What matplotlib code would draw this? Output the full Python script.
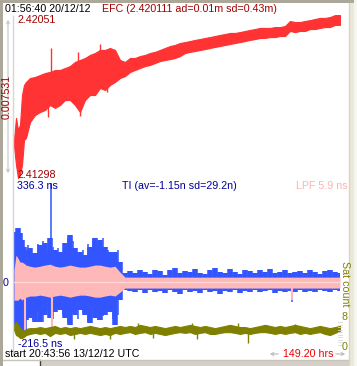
import matplotlib
matplotlib.use('Agg')
import matplotlib.pyplot as plt
import numpy as np
from matplotlib.patches import Rectangle, FancyArrowPatch
from matplotlib.lines import Line2D

# time axis, hours since start (149.20 hrs span)
hours = [0, 0.92, 1.83, 2.75, 3.66, 4.58, 5.49, 7.32, 9.61, 11.90, 14.19, 16.48, 18.76, 21.05,
         23.34, 25.63, 27.92, 30.21, 32.49, 34.78, 37.07, 39.36, 41.65, 43.94, 46.22, 48.51,
         50.80, 53.09, 55.38, 57.67, 59.95, 62.24, 64.53, 66.82, 69.11, 71.40, 73.68, 75.97,
         78.26, 80.55, 82.84, 85.13, 87.41, 89.70, 91.99, 94.28, 96.57, 98.86, 101.14, 103.43,
         105.72, 108.01, 110.30, 112.59, 114.87, 117.16, 119.45, 121.74, 124.03, 126.32,
         128.61, 130.89, 133.18, 135.47, 137.76, 140.05, 142.34, 144.62, 146.91, 149.20]

# EFC envelope (upper / lower)
efc_hi = [2.41473, 2.41574, 2.41519, 2.41542, 2.41679, 2.41725, 2.41739, 2.41757, 2.41762,
          2.41771, 2.41780, 2.41785, 2.41794, 2.41794, 2.41803, 2.41812, 2.41831, 2.41840,
          2.41849, 2.41863, 2.41872, 2.41886, 2.41886, 2.41895, 2.41886, 2.41840, 2.41831,
          2.41849, 2.41849, 2.41858, 2.41863, 2.41872, 2.41877, 2.41886, 2.41895, 2.41904,
          2.41909, 2.41918, 2.41922, 2.41927, 2.41932, 2.41936, 2.41941, 2.41945, 2.41950,
          2.41955, 2.41959, 2.41964, 2.41964, 2.41968, 2.41973, 2.41978, 2.41982, 2.41987,
          2.41987, 2.41987, 2.41991, 2.41991, 2.41996, 2.42019, 2.42014, 2.42014, 2.42019,
          2.42023, 2.42028, 2.42033, 2.42033, 2.42037, 2.42046, 2.42046]
efc_lo = [2.41445, 2.41358, 2.41298, 2.41312, 2.41358, 2.41473, 2.41482, 2.41555, 2.41587,
          2.41601, 2.41610, 2.41633, 2.41620, 2.41633, 2.41656, 2.41656, 2.41633, 2.41601,
          2.41656, 2.41679, 2.41679, 2.41711, 2.41702, 2.41725, 2.41739, 2.41757, 2.41766,
          2.41785, 2.41794, 2.41803, 2.41812, 2.41817, 2.41826, 2.41835, 2.41840, 2.41844,
          2.41849, 2.41858, 2.41872, 2.41877, 2.41881, 2.41886, 2.41890, 2.41895, 2.41900,
          2.41904, 2.41909, 2.41913, 2.41918, 2.41922, 2.41927, 2.41932, 2.41936, 2.41941,
          2.41941, 2.41945, 2.41945, 2.41950, 2.41950, 2.41973, 2.41968, 2.41973, 2.41973,
          2.41982, 2.41982, 2.41987, 2.41991, 2.41991, 2.42001, 2.42001]
efc_spike_h = [15.56, 16.93, 29.29, 30.21, 39.36, 42.56, 45.31]
efc_spike_v = [2.41578, 2.41895, 2.41877, 2.41583, 2.41913, 2.41693, 2.41886]

# TI envelope, ns
ti_hi = [-27, 170, 183, 166, 142, 119, 108, 115, 98, 125, 132, 149, 108, 102, 132, 159, 115,
         102, 92, 119, 149, 142, 119, 102, 102, 68, 31, 37, 31, 41, 34, 27, 41, 37, 24, 41,
         47, 31, 37, 34, 44, 31, 27, 41, 47, 34, 31, 44, 34, 27, 41, 37, 31, 41, 34, 44, 31,
         34, 41, 31, 34, 37, 31, 41, 34, 27, 37, 41, 34, 31]
ti_lo = [-78, -146, -156, -163, -173, -163, -129, -122, -136, -136, -112, -122, -102, -95,
         -122, -146, -112, -95, -112, -139, -122, -129, -112, -102, -146, -61, -27, -31, -34,
         -27, -37, -27, -34, -31, -37, -27, -34, -41, -27, -34, -31, -37, -27, -34, -31, -41,
         -31, -34, -27, -37, -31, -34, -27, -34, -31, -27, -37, -31, -34, -31, -34, -27, -34,
         -31, -34, -27, -31, -34, -27, -31]
ti_spike_h = [1.37, 6.41, 8.70, 10.98, 13.27, 15.56, 16.93, 17.85, 20.14, 22.43, 24.71, 27.00,
              29.29, 31.58, 33.87, 36.16, 38.44, 40.73, 43.02, 45.31, 47.60, 127.23]
ti_spike_lo = [-160, -120, -130, -100, -136, -95, -110, -125, -90, -110, -140, -100, -125,
               -105, -135, -95, -130, -115, -100, -125, -110, -68]
ti_spike_hi = [175, 125, 100, 130, 140, 110, 336.3, 120, 115, 100, 150, 140, 95, 110, 130,
               145, 125, 150, 110, 95, 110, 30]

# LPF band, ns
lpf_hi = [41, 92, 81, 68, 68, 64, 58, 54, 51, 54, 58, 61, 54, 51, 54, 58, 54, 51, 51, 54, 58,
          58, 54, 51, 54, 34, 17, 17, 17, 17, 17, 17, 17, 17, 17, 17, 17, 17, 17, 17, 17, 17,
          17, 17, 17, 17, 17, 17, 17, 17, 17, 17, 17, 17, 17, 17, 17, 17, 17, 17, 17, 17, 17,
          17, 17, 17, 17, 17, 17, 17]
lpf_lo = [-61, -61, -61, -54, -61, -54, -51, -47, -47, -44, -47, -51, -47, -44, -47, -51, -47,
          -44, -44, -47, -51, -51, -47, -44, -47, -34, -20, -20, -20, -20, -20, -20, -20, -20,
          -20, -20, -20, -20, -20, -20, -20, -20, -20, -20, -20, -20, -20, -20, -20, -20, -20,
          -20, -20, -20, -20, -20, -20, -20, -20, -20, -20, -20, -20, -20, -20, -20, -20, -20,
          -20, -20]
lpf_spike_h = [5.03, 17.39, 127.23]
lpf_spike_lo = [-163, -163, -61]

# Sat count envelope
sat_hi = [6.1, 6.9, 6.1, 5.2, 4.7, 4.4, 5.0, 5.2, 5.2, 5.5, 5.2, 5.5, 5.8, 5.2, 5.5, 5.2, 5.5,
          5.2, 5.5, 5.8, 5.5, 5.2, 5.5, 5.2, 5.5, 5.8, 5.5, 5.8, 5.5, 6.1, 5.8, 5.5, 5.8, 5.5,
          5.2, 5.5, 5.8, 5.5, 5.8, 6.1, 5.8, 5.5, 5.8, 5.5, 5.2, 5.5, 5.8, 6.1, 5.8, 5.5, 5.5,
          5.2, 5.5, 5.8, 6.1, 5.8, 5.5, 5.8, 5.5, 5.8, 6.1, 5.8, 5.5, 5.2, 5.5, 5.8, 5.5, 5.2,
          5.5, 5.8]
sat_lo = [4.7, 3.3, 3.0, 2.5, 2.5, 2.8, 3.3, 3.6, 3.9, 3.6, 3.9, 3.0, 3.9, 3.6, 3.9, 3.3, 3.6,
          3.9, 3.6, 3.9, 3.6, 3.3, 3.6, 3.3, 3.9, 3.6, 3.9, 4.1, 3.6, 3.9, 4.1, 3.6, 3.9, 3.6,
          3.3, 3.6, 3.9, 4.1, 3.9, 4.1, 3.6, 3.9, 4.1, 3.6, 3.6, 3.9, 4.1, 4.1, 3.9, 3.6, 3.9,
          3.6, 3.9, 4.1, 4.1, 3.9, 3.6, 3.9, 3.6, 3.9, 4.1, 3.6, 3.9, 3.6, 3.9, 4.1, 3.6, 3.3,
          3.9, 4.4]
sat_spike_h = [27.46, 43.94, 56.75, 63.62, 81.47, 83.75, 102.52, 107.10, 128.61]
sat_spike_v = [2.2, 2.3, 6.7, 2.6, 6.6, 2.3, 6.5, 1.2, 6.4]

W, H = 357, 366
fig = plt.figure(figsize=(W / 100, H / 100), dpi=100)
fig.patch.set_facecolor('white')


def box(top, bottom):
    return [14 / W, 1 - bottom / H, 326 / W, (bottom - top) / H]


def fx(x):
    return x / W


def fy(y):
    return 1 - y / H


def rect(x0, y0, x1, y1, color):
    fig.add_artist(Rectangle((fx(x0), fy(y1)), (x1 - x0) / W, (y1 - y0) / H,
                             transform=fig.transFigure, color=color, lw=0, zorder=0))


def line(xs, ys, color, lw=1.0):
    fig.add_artist(Line2D([fx(x) for x in xs], [fy(y) for y in ys],
                          transform=fig.transFigure, color=color, lw=lw, zorder=1))


def txt(x, y, s, color, **kw):
    fig.text(fx(x), fy(y), s, color=color, fontsize=7.7, family='Liberation Sans',
             va='center', **kw)


# window frame
rect(0, 0, W, 3, '#aca899')
rect(0, 0, 3, H, '#aca899')
rect(349, 3, 354, H, '#ece9d8')
rect(354, 0, W, H, '#f6f5f0')
rect(40, 360, 349, H, '#d4d0c8')
line([40, 40], [360, H], '#404040')
line([3, 349], [359.5, 359.5], '#c8c4b8')
line([349, 349], [3, H], '#d8d4c8')

# left scale lines
line([13.5, 13.5], [16, 355], '#d6d6d6')
fig.add_artist(FancyArrowPatch((fx(8), fy(176)), (fx(8), fy(17)), arrowstyle='<->',
                               mutation_scale=5, color='#c4c4c4', lw=0.8,
                               transform=fig.transFigure))

ax_efc = fig.add_axes(box(14, 178))
ax_ti = fig.add_axes(box(183, 346))
ax_sat = fig.add_axes(box(310, 347))
for ax in (ax_efc, ax_ti, ax_sat):
    ax.set_axis_off()
    ax.patch.set_visible(False)
    ax.set_xlim(0, 149.2)

ax_efc.set_ylim(2.41298, 2.42051)
ax_ti.set_ylim(-216.5, 336.3)
ax_sat.set_ylim(0, 10.2)

h = np.array(hours)

# EFC
ax_efc.fill_between(h, efc_lo, efc_hi, color='#ff3333', lw=0.8, ec='#ff3333')
efc_mid = np.interp(efc_spike_h, h, (np.array(efc_hi) + np.array(efc_lo)) / 2)
ax_efc.vlines(efc_spike_h, efc_mid, efc_spike_v, color='#ff3333', lw=1)

# TI and LPF
ax_ti.vlines(h, ti_lo, ti_hi, color='#3355ff', lw=4.0)
ax_ti.vlines(ti_spike_h, ti_spike_lo, ti_spike_hi, color='#3355ff', lw=1.1)
ax_ti.fill_between(h, lpf_lo, lpf_hi, color='#ffb8b8', lw=0, zorder=3)
ax_ti.vlines(lpf_spike_h, lpf_spike_lo, 0, color='#ffb8b8', lw=1.5, zorder=3)
ax_ti.axhline(0, color='#ffd6d6', lw=1, zorder=4)

# Sat count
ax_sat.fill_between(h, sat_lo, sat_hi, color='#808000', lw=0.8, ec='#808000')
sat_mid = np.interp(sat_spike_h, h, (np.array(sat_hi) + np.array(sat_lo)) / 2)
ax_sat.vlines(sat_spike_h, sat_mid, sat_spike_v, color='#808000', lw=1)

# sat scale ladder
for yy in np.arange(322, 346, 2.5):
    line([338, 342], [yy, yy], '#d8d8d8', lw=0.6)

# texts
txt(5, 9, '01:56:40 20/12/12', 'black')
txt(102, 9, 'EFC (2.420111 ad=0.01m sd=0.43m)', '#a00000')
txt(18, 20, '2.42051', '#a00000')
txt(17, 175.5, '2.41298', '#a00000')
txt(6.5, 97, '0.007531', '#a00000', rotation=90, ha='center')
txt(17, 186, '336.3 ns', '#000099')
txt(122, 186, 'TI (av=-1.15n sd=29.2n)', '#000099')
txt(348, 186, 'LPF 5.9 ns', '#ffb0b0', ha='right')
txt(3, 282.5, '0', '#000099')
txt(18, 344, '-216.5 ns', '#000099')
txt(5, 354, 'start 20:43:56 13/12/12 UTC', 'black')
txt(283, 354, '149.20 hrs', '#ee0000')
txt(345, 284, 'Sat count', '#808000', rotation=270, ha='center')
txt(345, 317, '8', '#808000', ha='center')
txt(345, 346.5, '0', '#808000', ha='center')

fig.add_artist(FancyArrowPatch((fx(281), fy(354)), (fx(267), fy(354)), arrowstyle='->',
                               mutation_scale=5, color='#b8b8b8', lw=0.8,
                               transform=fig.transFigure))
fig.add_artist(FancyArrowPatch((fx(333), fy(354)), (fx(348), fy(354)), arrowstyle='->',
                               mutation_scale=5, color='#b8b8b8', lw=0.8,
                               transform=fig.transFigure))

fig.savefig('out.png', dpi=100)
